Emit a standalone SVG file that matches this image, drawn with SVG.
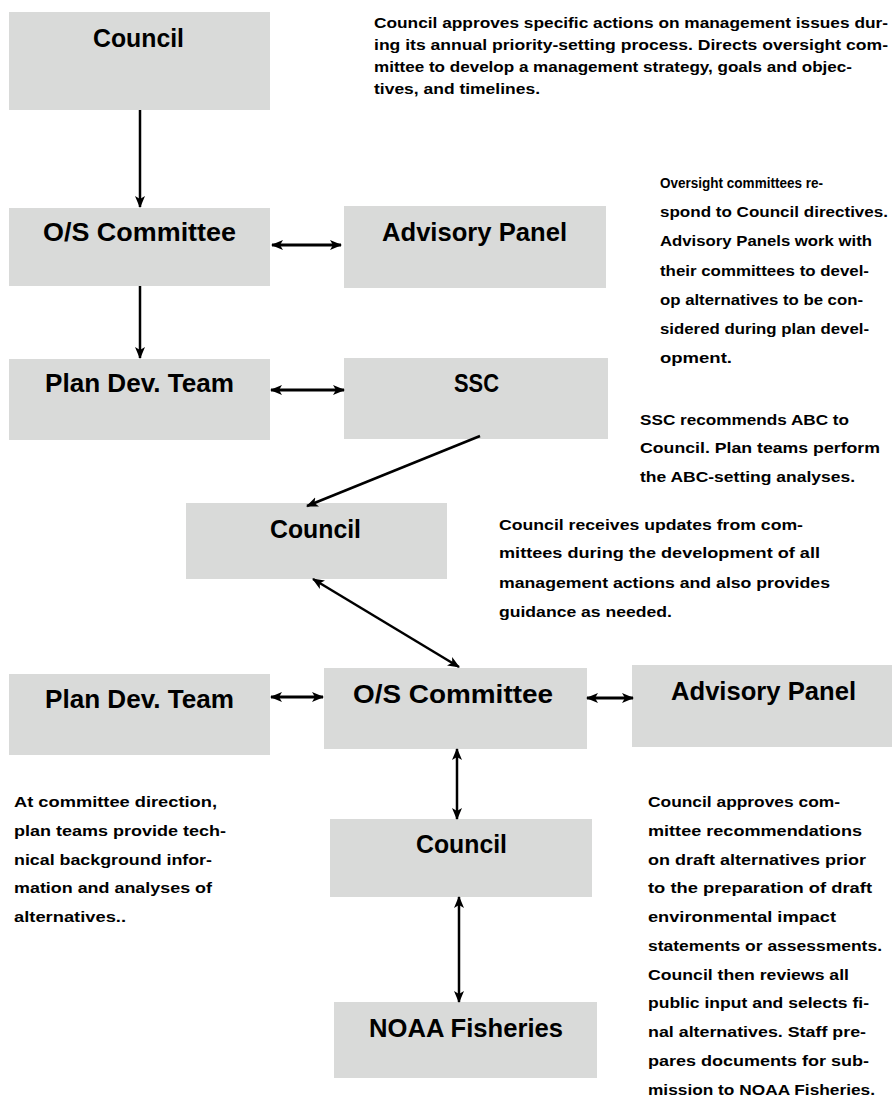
<svg xmlns="http://www.w3.org/2000/svg" width="892" height="1099" viewBox="0 0 892 1099">
<style>
.box{fill:#d9dad9}
.lbl{font-family:"Liberation Sans",Arial,sans-serif;font-weight:bold;font-size:26px;fill:#000}
.p{font-family:"Liberation Sans",Arial,sans-serif;font-weight:bold;font-size:15px;fill:#000}
.c{stroke:#000;stroke-width:2.5;fill:none}
.d{stroke:#000;stroke-width:3;fill:none}
</style>
<defs>
<marker id="ah" markerUnits="userSpaceOnUse" viewBox="0 0 12 12" refX="11" refY="6" markerWidth="12" markerHeight="12" orient="auto-start-reverse">
<path d="M0,1 L12,6 L0,11 L3,6 Z" fill="#000"/>
</marker>
</defs>
<rect width="892" height="1099" fill="#fff"/>
<g id="council1"><rect class="box" x="9" y="12" width="261" height="98"/><text class="lbl" x="93" y="47" textLength="91" lengthAdjust="spacingAndGlyphs">Council</text></g>
<g id="os1"><rect class="box" x="9" y="208" width="261" height="78"/><text class="lbl" x="43" y="241" textLength="193" lengthAdjust="spacingAndGlyphs">O/S Committee</text></g>
<g id="advisory1"><rect class="box" x="344" y="206" width="262" height="82"/><text class="lbl" x="382" y="241" textLength="185" lengthAdjust="spacingAndGlyphs">Advisory Panel</text></g>
<g id="plandev1"><rect class="box" x="9" y="359" width="261" height="81"/><text class="lbl" x="45" y="392" textLength="189" lengthAdjust="spacingAndGlyphs">Plan Dev. Team</text></g>
<g id="ssc"><rect class="box" x="344" y="358" width="264" height="81"/><text class="lbl" x="454" y="392" textLength="45" lengthAdjust="spacingAndGlyphs">SSC</text></g>
<g id="council2"><rect class="box" x="186" y="503" width="261" height="76"/><text class="lbl" x="270" y="538" textLength="91" lengthAdjust="spacingAndGlyphs">Council</text></g>
<g id="plandev2"><rect class="box" x="9" y="674" width="261" height="81"/><text class="lbl" x="45" y="708" textLength="189" lengthAdjust="spacingAndGlyphs">Plan Dev. Team</text></g>
<g id="os2"><rect class="box" x="324" y="668" width="263" height="81"/><text class="lbl" x="353" y="703" textLength="200" lengthAdjust="spacingAndGlyphs">O/S Committee</text></g>
<g id="advisory2"><rect class="box" x="632" y="665" width="260" height="82"/><text class="lbl" x="671" y="700" textLength="185" lengthAdjust="spacingAndGlyphs">Advisory Panel</text></g>
<g id="council3"><rect class="box" x="330" y="819" width="262" height="78"/><text class="lbl" x="416" y="853" textLength="91" lengthAdjust="spacingAndGlyphs">Council</text></g>
<g id="noaa"><rect class="box" x="334" y="1002" width="263" height="76"/><text class="lbl" x="369" y="1037" textLength="194" lengthAdjust="spacingAndGlyphs">NOAA Fisheries</text></g>
<g id="connectors">
<line class="c" x1="140" y1="110" x2="140" y2="207" marker-end="url(#ah)"/>
<line class="c" x1="140" y1="286" x2="140" y2="358" marker-end="url(#ah)"/>
<line class="d" x1="272" y1="245" x2="341" y2="245" marker-start="url(#ah)" marker-end="url(#ah)"/>
<line class="d" x1="271" y1="390" x2="344" y2="390" marker-start="url(#ah)" marker-end="url(#ah)"/>
<line class="c" x1="480" y1="436" x2="307" y2="506" marker-end="url(#ah)"/>
<line class="c" x1="313" y1="579" x2="459" y2="667" marker-start="url(#ah)" marker-end="url(#ah)"/>
<line class="d" x1="271" y1="697" x2="323" y2="697" marker-start="url(#ah)" marker-end="url(#ah)"/>
<line class="d" x1="587" y1="698" x2="633" y2="698" marker-start="url(#ah)" marker-end="url(#ah)"/>
<line class="c" x1="457" y1="749" x2="457" y2="819" marker-start="url(#ah)" marker-end="url(#ah)"/>
<line class="c" x1="459" y1="897" x2="459" y2="1002" stroke-width="2" marker-start="url(#ah)" marker-end="url(#ah)"/>
</g>
<g id="texts">
<text class="p" x="374" y="28" textLength="514" lengthAdjust="spacingAndGlyphs">Council approves specific actions on management issues dur-</text>
<text class="p" x="374" y="50" textLength="514" lengthAdjust="spacingAndGlyphs">ing its annual priority-setting process. Directs oversight com-</text>
<text class="p" x="374" y="72" textLength="478" lengthAdjust="spacingAndGlyphs">mittee to develop a management strategy, goals and objec-</text>
<text class="p" x="374" y="94" textLength="166" lengthAdjust="spacingAndGlyphs">tives, and timelines.</text>
<text class="p" x="660" y="188" textLength="163" lengthAdjust="spacingAndGlyphs">Oversight committees re-</text>
<text class="p" x="660" y="217" textLength="228" lengthAdjust="spacingAndGlyphs">spond to Council directives.</text>
<text class="p" x="660" y="246" textLength="212" lengthAdjust="spacingAndGlyphs">Advisory Panels work with</text>
<text class="p" x="660" y="276" textLength="209" lengthAdjust="spacingAndGlyphs">their committees to devel-</text>
<text class="p" x="660" y="305" textLength="203" lengthAdjust="spacingAndGlyphs">op alternatives to be con-</text>
<text class="p" x="660" y="334" textLength="209" lengthAdjust="spacingAndGlyphs">sidered during plan devel-</text>
<text class="p" x="660" y="363" textLength="72" lengthAdjust="spacingAndGlyphs">opment.</text>
<text class="p" x="640" y="425" textLength="209" lengthAdjust="spacingAndGlyphs">SSC recommends ABC to</text>
<text class="p" x="640" y="453" textLength="240" lengthAdjust="spacingAndGlyphs">Council. Plan teams perform</text>
<text class="p" x="640" y="482" textLength="215" lengthAdjust="spacingAndGlyphs">the ABC-setting analyses.</text>
<text class="p" x="499" y="530" textLength="304" lengthAdjust="spacingAndGlyphs">Council receives updates from com-</text>
<text class="p" x="499" y="558" textLength="321" lengthAdjust="spacingAndGlyphs">mittees during the development of all</text>
<text class="p" x="499" y="588" textLength="331" lengthAdjust="spacingAndGlyphs">management actions and also provides</text>
<text class="p" x="499" y="617" textLength="173" lengthAdjust="spacingAndGlyphs">guidance as needed.</text>
<text class="p" x="14" y="807" textLength="203" lengthAdjust="spacingAndGlyphs">At committee direction,</text>
<text class="p" x="14" y="836" textLength="212" lengthAdjust="spacingAndGlyphs">plan teams provide tech-</text>
<text class="p" x="14" y="865" textLength="198" lengthAdjust="spacingAndGlyphs">nical background infor-</text>
<text class="p" x="14" y="893" textLength="198" lengthAdjust="spacingAndGlyphs">mation and analyses of</text>
<text class="p" x="14" y="922" textLength="112" lengthAdjust="spacingAndGlyphs">alternatives..</text>
<text class="p" x="648" y="807" textLength="192" lengthAdjust="spacingAndGlyphs">Council approves com-</text>
<text class="p" x="648" y="836" textLength="214" lengthAdjust="spacingAndGlyphs">mittee recommendations</text>
<text class="p" x="648" y="865" textLength="218" lengthAdjust="spacingAndGlyphs">on draft alternatives prior</text>
<text class="p" x="648" y="893" textLength="224" lengthAdjust="spacingAndGlyphs">to the preparation of draft</text>
<text class="p" x="648" y="922" textLength="188" lengthAdjust="spacingAndGlyphs">environmental impact</text>
<text class="p" x="648" y="951" textLength="234" lengthAdjust="spacingAndGlyphs">statements or assessments.</text>
<text class="p" x="648" y="980" textLength="201" lengthAdjust="spacingAndGlyphs">Council then reviews all</text>
<text class="p" x="648" y="1008" textLength="221" lengthAdjust="spacingAndGlyphs">public input and selects fi-</text>
<text class="p" x="648" y="1037" textLength="218" lengthAdjust="spacingAndGlyphs">nal alternatives. Staff pre-</text>
<text class="p" x="648" y="1066" textLength="221" lengthAdjust="spacingAndGlyphs">pares documents for  sub-</text>
<text class="p" x="648" y="1095" textLength="227" lengthAdjust="spacingAndGlyphs">mission to NOAA Fisheries.</text>
</g>
</svg>
